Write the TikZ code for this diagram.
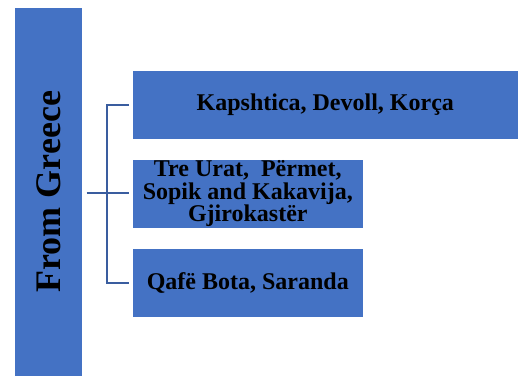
\documentclass[tikz,border=0pt]{standalone}
\usepackage{fontspec}
\setmainfont{Liberation Serif}
\usetikzlibrary{positioning}

\definecolor{blockblue}{HTML}{4472C4}
\definecolor{linkblue}{HTML}{3A5D9F}

\begin{document}
\begin{tikzpicture}[ x = 1pt, y = -1pt,
    box/.style  = {fill = blockblue, draw = white, line width = 0.6pt,
                   inner sep = 0pt, align = center,
                   font = \bfseries\fontsize{24}{22.5}\selectfont},
    link/.style = {draw = linkblue, line width = 1.4pt} ]
    \useasboundingbox (0,0) rectangle (518,376);

    \node[box, anchor = north west, minimum width = 68pt, minimum height = 369pt] (greece) at (14,7) {};
    \node[rotate = 90, font = \bfseries\fontsize{36}{40}\selectfont] (greecetext) at (greece.center) {From Greece};

    \node[box, anchor = north west, minimum width = 386pt, minimum height = 69pt] (korca) at (132,70)
        {Kapshtica, Devoll, Korça};
    \node[box, anchor = north west, minimum width = 231pt, minimum height = 69pt] (permet) at (132,159)
        {Tre Urat,\ \ Përmet,\\Sopik and Kakavija,\\Gjirokastër};
    \node[box, anchor = north west, minimum width = 231pt, minimum height = 69pt] (saranda) at (132,248)
        {Qafë Bota, Saranda};

    \coordinate (spine) at (107,193);

    % bracket from the source to the three crossings
    \draw[link, shorten <= 4pt] (greece.east |- spine) -- (spine);
    \draw[link, shorten >= 3pt] (spine) -- (spine -| permet.west);
    \draw[link] ([xshift = -3pt]korca.west) -| (spine) |- ([xshift = -3pt]saranda.west);

\end{tikzpicture}
\end{document}
